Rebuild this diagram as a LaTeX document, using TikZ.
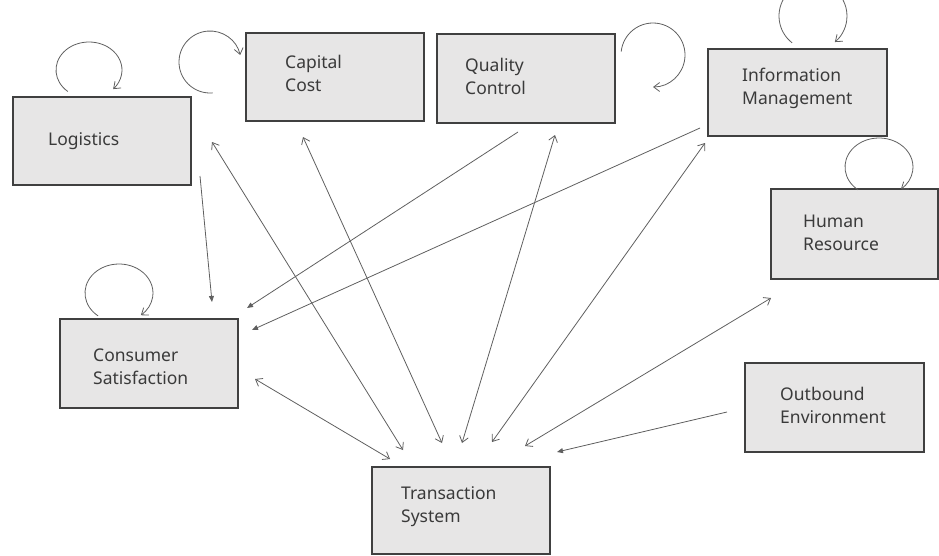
\documentclass[tikz,border=0pt]{standalone}
\usepackage{fontspec}
\setmainfont{Noto Sans}
\usetikzlibrary{arrows.meta,calc}
\definecolor{boxfill}{HTML}{E7E6E6}
\definecolor{boxline}{HTML}{404040}
\definecolor{linec}{HTML}{5F5F5F}
\definecolor{txt}{HTML}{3A3A3A}
\begin{document}
\begin{tikzpicture}[x=1pt,y=1pt,
  box/.style={draw=boxline, fill=boxfill, line width=1.5pt, rectangle, inner sep=0pt, anchor=north west},
  lbl/.style={font=\fontsize{17.5}{23}\selectfont, text=txt, align=left, anchor=west, inner sep=0pt},
  conn/.style={draw=linec, line width=0.8pt},
  dbl/.style={conn, {Straight Barb[length=6pt,width=9pt]}-{Straight Barb[length=6pt,width=9pt]}},
  one/.style={conn, -{Triangle[length=6pt,width=5pt]}},
  selfloop/.style={conn, -{Straight Barb[length=6pt,width=9pt]}}]
\useasboundingbox (0,0) rectangle (939,-555);
\clip (0,0) rectangle (939,-555);

% boxes
\node[box, minimum width=178pt, minimum height=88pt] (log) at (12,-96) {};
\node[box, minimum width=178pt, minimum height=88pt] (cap) at (245,-32) {};
\node[box, minimum width=178pt, minimum height=89pt] (qc)  at (436,-33) {};
\node[box, minimum width=179pt, minimum height=87pt] (im)  at (707,-48) {};
\node[box, minimum width=167pt, minimum height=90pt] (hr)  at (770,-188) {};
\node[box, minimum width=178pt, minimum height=89pt] (cs)  at (59,-318) {};
\node[box, minimum width=178pt, minimum height=87pt] (ts)  at (371,-466) {};
\node[box, minimum width=179pt, minimum height=89pt] (oe)  at (744,-362) {};

% labels
\node[lbl] (logt) at (48,-141) {Logistics};
\node[lbl] (capt) at (285,-73) {Capital\\Cost};
\node[lbl] (qct)  at (465,-76) {Quality\\Control};
\node[lbl] (imt)  at (742,-88) {Information\\Management};
\node[lbl] (hrt)  at (803,-233) {Human\\Resource};
\node[lbl] (cst)  at (93,-367) {Consumer\\Satisfaction};
\node[lbl] (tst)  at (401,-507) {Transaction\\System};
\node[lbl] (oet)  at (780,-405) {Outbound\\Environment};

% connector end points
\coordinate (log-a) at (200,-176); \coordinate (cs-a) at (212,-302);
\coordinate (log-b) at (212,-142); \coordinate (ts-b) at (403,-450);
\coordinate (cap-c) at (303,-137); \coordinate (ts-c) at (442,-443);
\coordinate (qc-d)  at (518,-132); \coordinate (cs-d) at (247,-308);
\coordinate (qc-e)  at (555,-135); \coordinate (ts-e) at (462,-443);
\coordinate (im-f)  at (700,-128); \coordinate (cs-f) at (252,-330);
\coordinate (im-g)  at (705,-143); \coordinate (ts-g) at (492,-442);
\coordinate (hr-h)  at (771,-298); \coordinate (ts-h) at (525,-446);
\coordinate (oe-i)  at (727,-412); \coordinate (ts-i) at (557,-452);
\coordinate (cs-j)  at (255,-379); \coordinate (ts-j) at (390,-459);

\draw[one] (log-a) -- (cs-a);
\draw[dbl] (log-b) -- (ts-b);
\draw[dbl] (cap-c) -- (ts-c);
\draw[one] (qc-d) -- (cs-d);
\draw[dbl] (qc-e) -- (ts-e);
\draw[one] (im-f) -- (cs-f);
\draw[dbl] (im-g) -- (ts-g);
\draw[dbl] (hr-h) -- (ts-h);
\draw[one] (oe-i) -- (ts-i);
\draw[dbl] (cs-j) -- (ts-j);

% self loops
\draw[selfloop] ($(89,-70)+(230:33 and 28)$) arc[start angle=230, end angle=-43, x radius=33, y radius=28];
\draw[selfloop] ($(210,-62)+(275:31 and 31)$) arc[start angle=275, end angle=13, x radius=31, y radius=31];
\draw[selfloop] ($(653,-55)+(174:32 and 32)$) arc[start angle=174, end angle=-90, x radius=32, y radius=32];
\draw[selfloop] ($(813,-16)+(232:34 and 34)$) arc[start angle=232, end angle=-50, x radius=34, y radius=34];
\draw[selfloop] ($(879,-167)+(232:34 and 29)$) arc[start angle=232, end angle=-50, x radius=34, y radius=29];
\draw[selfloop] ($(119,-293)+(232:34 and 29)$) arc[start angle=232, end angle=-50, x radius=34, y radius=29];
\end{tikzpicture}
\end{document}
